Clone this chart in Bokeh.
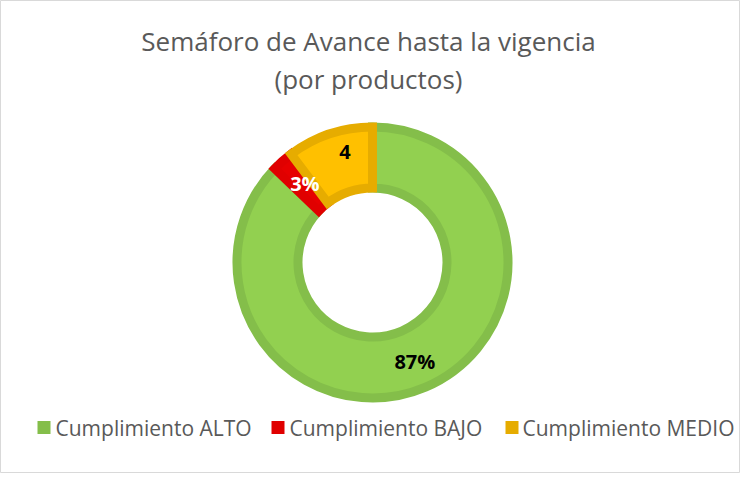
import math
from bokeh.plotting import figure
from bokeh.models import Range1d, ColumnDataSource
from bokeh.core.properties import value
from bokeh.embed import file_html
from bokeh.resources import INLINE

categories = ["Cumplimiento ALTO", "Cumplimiento BAJO", "Cumplimiento MEDIO"]
values = [34, 1, 4]
labels = ["87%", "3%", "4"]
fill_colors = ["#92D050", "#E60000", "#FFC000"]
line_colors = ["#84BE4A", "#E00000", "#E6AC00"]
label_colors = ["#000000", "#FFFFFF", "#000000"]
title_lines = ["Semáforo de Avance hasta la vigencia", "(por productos)"]

W, H = 740, 473
FONT = "Open Sans"
p = figure(width=W, height=H, output_backend="svg", toolbar_location=None,
           x_range=Range1d(0, W), y_range=Range1d(0, H), min_border=0)
p.axis.visible = False
p.grid.visible = False
p.outline_line_color = "#D9D9D9"
p.outline_line_width = 1
p.background_fill_color = "white"
p.border_fill_color = "white"

cx, cy = 372, H - 262
r_in, r_out, bw = 70, 140, 9
total = sum(values)
starts, ends, mids = [], [], []
acc = 0.0
for v in values:
    a0 = math.pi / 2 - 2 * math.pi * acc / total
    acc += v
    a1 = math.pi / 2 - 2 * math.pi * acc / total
    starts.append(a0)
    ends.append(a1)
    mids.append((a0 + a1) / 2)

src = ColumnDataSource(dict(start=starts, end=ends, fill=fill_colors, line=line_colors))
p.annular_wedge(x=cx, y=cy, inner_radius=r_in + bw / 2, outer_radius=r_out - bw / 2,
                start_angle="start", end_angle="end", direction="clock",
                fill_color="fill", line_color="line", line_width=bw, line_join="miter",
                source=src)

rl = [108, 105, 112]
off = [(0, 0), (2, 0), (8, 4)]
lx = [cx + r * math.cos(m) + o[0] for r, m, o in zip(rl, mids, off)]
ly = [cy + r * math.sin(m) + o[1] for r, m, o in zip(rl, mids, off)]
p.text(x=lx, y=ly, text=labels, text_color=label_colors, text_font=value(FONT),
       text_font_style="bold", text_font_size="20px", text_align="center",
       text_baseline="middle")

# title
p.text(x=[W / 2 - 2, W / 2 - 2], y=[H - 40, H - 78], text=title_lines,
       text_color="#595959", text_font=value(FONT), text_font_size="26px",
       text_align="center", text_baseline="middle")

# legend
sq_x = [37, 271, 505]
txt_x = [55, 289, 522]
ly_leg = H - 427
p.rect(x=[s + 6.5 for s in sq_x], y=[ly_leg] * 3, width=13, height=13,
       fill_color=line_colors, line_color=None)
p.text(x=txt_x, y=[ly_leg] * 3, text=categories, text_color="#595959",
       text_font=value(FONT), text_font_size="21px", text_align="left",
       text_baseline="middle")

open("out.html", "w").write(file_html(p, INLINE))
